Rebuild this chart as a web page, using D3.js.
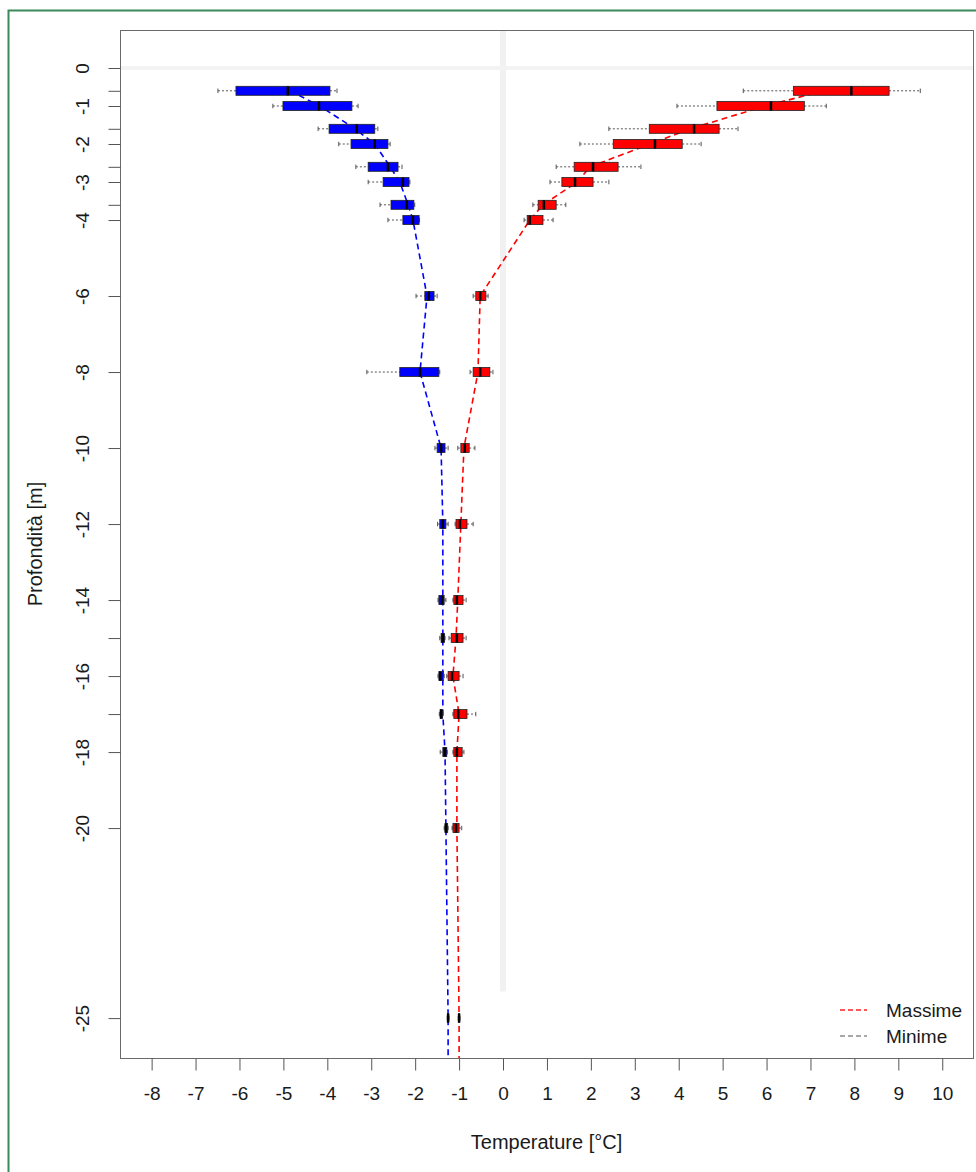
<!DOCTYPE html>
<html>
<head>
<meta charset="utf-8">
<script src="https://cdn.jsdelivr.net/npm/d3@7"></script>
<style>
  body { margin: 0; background: #fff; }
  text { font-family: "Liberation Sans", Arial, sans-serif; fill: #1a1a1a; }
</style>
</head>
<body>
<svg id="chart"></svg>
<script>
// depths of the sensors [m]
var depths = [-0.6, -1, -1.6, -2, -2.6, -3, -3.6, -4, -6, -8, -10, -12, -14, -15, -16, -17, -18, -20, -25]
var depthLabels = [0, -1, -2, -3, -4, -6, -8, -10, -12, -14, -16, -18, -20, -25]
var tempTicks = [-8, -7, -6, -5, -4, -3, -2, -1, 0, 1, 2, 3, 4, 5, 6, 7, 8, 9, 10]

// minima: [whisker low, q1, median, q3, whisker high]
var minBox = [
  [-6.49, -6.08, -4.90, -3.94, -3.78],
  [-5.24, -5.01, -4.19, -3.44, -3.30],
  [-4.21, -3.96, -3.33, -2.92, -2.85],
  [-3.74, -3.46, -2.92, -2.62, -2.57],
  [-3.35, -3.07, -2.62, -2.39, -2.30],
  [-3.07, -2.73, -2.28, -2.14, -2.12],
  [-2.80, -2.55, -2.19, -2.03, -2.01],
  [-2.62, -2.28, -2.05, -1.91, -1.90],
  [-1.98, -1.78, -1.69, -1.57, -1.50],
  [-3.10, -2.35, -1.89, -1.46, -1.44],
  [-1.55, -1.50, -1.41, -1.32, -1.25],
  [-1.49, -1.44, -1.37, -1.30, -1.25],
  [-1.48, -1.46, -1.39, -1.34, -1.30],
  [-1.44, -1.41, -1.37, -1.33, -1.32],
  [-1.48, -1.46, -1.43, -1.36, -1.34],
  [-1.45, -1.43, -1.41, -1.38, -1.37],
  [-1.43, -1.37, -1.32, -1.28, -1.27],
  [-1.34, -1.32, -1.30, -1.26, -1.25],
  [-1.27, -1.26, -1.25, -1.24, -1.23]
]

// maxima: [whisker low, q1, median, q3, whisker high]
var maxBox = [
  [5.47, 6.61, 7.93, 8.79, 9.50],
  [3.96, 4.87, 6.10, 6.86, 7.36],
  [2.41, 3.33, 4.35, 4.92, 5.35],
  [1.75, 2.51, 3.46, 4.08, 4.51],
  [1.21, 1.62, 2.05, 2.62, 3.14],
  [1.07, 1.34, 1.64, 2.05, 2.41],
  [0.68, 0.80, 0.93, 1.21, 1.43],
  [0.48, 0.55, 0.61, 0.91, 1.14],
  [-0.68, -0.62, -0.52, -0.39, -0.34],
  [-0.75, -0.68, -0.52, -0.30, -0.23],
  [-1.03, -0.96, -0.87, -0.77, -0.64],
  [-1.09, -1.07, -0.98, -0.82, -0.68],
  [-1.14, -1.12, -1.05, -0.91, -0.84],
  [-1.23, -1.18, -1.05, -0.91, -0.84],
  [-1.28, -1.25, -1.16, -1.00, -0.91],
  [-1.14, -1.12, -1.02, -0.82, -0.62],
  [-1.14, -1.12, -1.05, -0.93, -0.89],
  [-1.16, -1.14, -1.07, -1.00, -0.94],
  [-1.02, -1.01, -1.00, -0.99, -0.98]
]

// mean profiles (dashed lines)
var minMean = [-4.85, -4.17, -3.37, -2.92, -2.57, -2.35, -2.16, -2.05, -1.73, -1.89, -1.41, -1.37, -1.37, -1.37, -1.37, -1.37, -1.32, -1.30, -1.25]
var maxMean = [7.30, 5.97, 4.26, 3.35, 1.98, 1.69, 0.91, 0.61, -0.52, -0.57, -0.89, -0.96, -1.03, -1.07, -1.14, -1.00, -1.05, -1.05, -1.00]

var legendNames = ["Massime", "Minime"]
var legendColors = ["#ff2020", "#8c8c8c"]

var W = 976, H = 1172
var plot = {left: 120, right: 973, top: 30, bottom: 1058}
var boxH = 9

var svg = d3.select("#chart")
  .attr("width", W)
  .attr("height", H)

// outer green frame
svg.append("rect")
  .attr("x", 8.5)
  .attr("y", 10.5)
  .attr("width", 990)
  .attr("height", 1200)
  .attr("fill", "none")
  .attr("stroke", "#3a8a5c")
  .attr("stroke-width", 2)

var x = d3.scaleLinear().domain([-8.72, 10.7]).range([plot.left, plot.right])
var y = d3.scaleLinear().domain([1, -26.05]).range([plot.top, plot.bottom])

var g = svg.append("g")
var clip = svg.append("clipPath").attr("id", "clip")
clip.append("rect")
  .attr("x", plot.left).attr("y", plot.top)
  .attr("width", plot.right - plot.left).attr("height", plot.bottom - plot.top)

// faint reference lines at 0
g.append("line")
  .attr("x1", x(0)).attr("x2", x(0))
  .attr("y1", plot.top).attr("y2", y(-24.3))
  .attr("stroke", "#f1f1f1")
  .attr("stroke-width", 6)
g.append("line")
  .attr("x1", plot.left).attr("x2", plot.right)
  .attr("y1", y(0)).attr("y2", y(0))
  .attr("stroke", "#f3f3f3")
  .attr("stroke-width", 4)

// mean lines
function drawMean(values, color) {
  var pts = depths.map(function(d, i) { return [values[i], d] })
  pts.push([values[values.length - 1], y.domain()[1]])
  g.append("path")
    .datum(pts)
    .attr("clip-path", "url(#clip)")
    .attr("fill", "none")
    .attr("stroke", color)
    .attr("stroke-width", 1.6)
    .attr("stroke-dasharray", "6,4")
    .attr("d", d3.line().x(function(p) { return x(p[0]) }).y(function(p) { return y(p[1]) }))
}
drawMean(maxMean, "#ff0000")
drawMean(minMean, "#0000ff")

// boxplots
function drawBoxes(stats, color) {
  var grp = g.append("g")
  var items = grp.selectAll("g.box")
    .data(stats.map(function(s, i) { return {s: s, d: depths[i]} }))
    .enter().append("g")
    .attr("class", "box")

  // whiskers
  items.append("line")
    .attr("x1", function(b) { return x(b.s[0]) })
    .attr("x2", function(b) { return x(b.s[1]) })
    .attr("y1", function(b) { return y(b.d) })
    .attr("y2", function(b) { return y(b.d) })
    .attr("stroke", "#555").attr("stroke-width", 1).attr("stroke-dasharray", "2,2")
  items.append("line")
    .attr("x1", function(b) { return x(b.s[3]) })
    .attr("x2", function(b) { return x(b.s[4]) })
    .attr("y1", function(b) { return y(b.d) })
    .attr("y2", function(b) { return y(b.d) })
    .attr("stroke", "#555").attr("stroke-width", 1).attr("stroke-dasharray", "2,2")
  ;[0, 4].forEach(function(k) {
    items.append("line")
      .attr("x1", function(b) { return x(b.s[k]) })
      .attr("x2", function(b) { return x(b.s[k]) })
      .attr("y1", function(b) { return y(b.d) - boxH / 4 })
      .attr("y2", function(b) { return y(b.d) + boxH / 4 })
      .attr("stroke", "#555").attr("stroke-width", 1)
  })

  items.append("rect")
    .attr("x", function(b) { return x(b.s[1]) })
    .attr("y", function(b) { return y(b.d) - boxH / 2 })
    .attr("width", function(b) { return Math.max(1, x(b.s[3]) - x(b.s[1])) })
    .attr("height", boxH)
    .attr("fill", color)
    .attr("stroke", "#222")
    .attr("stroke-width", 0.8)

  items.append("line")
    .attr("x1", function(b) { return x(b.s[2]) })
    .attr("x2", function(b) { return x(b.s[2]) })
    .attr("y1", function(b) { return y(b.d) - boxH / 2 })
    .attr("y2", function(b) { return y(b.d) + boxH / 2 })
    .attr("stroke", "#000")
    .attr("stroke-width", 2.5)
}
drawBoxes(minBox, "#0000ff")
drawBoxes(maxBox, "#ff0000")

// plot frame
svg.append("rect")
  .attr("x", plot.left + 0.5).attr("y", plot.top + 0.5)
  .attr("width", plot.right - plot.left).attr("height", plot.bottom - plot.top)
  .attr("fill", "none")
  .attr("stroke", "#6a6a6a")
  .attr("stroke-width", 1)

// x axis
var xAxis = svg.append("g")
  .attr("transform", "translate(0," + (plot.bottom + 0.5) + ")")
  .call(d3.axisBottom(x).tickValues(tempTicks).tickSize(12).tickPadding(16)
    .tickFormat(function(d) { return String(d) }))
xAxis.select(".domain").remove()
xAxis.selectAll("line").attr("stroke", "#555")
xAxis.selectAll("text").style("font-size", "19px").attr("fill", "#1a1a1a")

// y axis
var yTicks = [0].concat(depths)
var yAxis = svg.append("g")
  .attr("transform", "translate(" + (plot.left + 0.5) + ",0)")
  .call(d3.axisLeft(y).tickValues(yTicks).tickSize(12)
    .tickFormat(function(d) { return depthLabels.indexOf(d) >= 0 ? String(d) : "" }))
yAxis.select(".domain").remove()
yAxis.selectAll("line").attr("stroke", "#555")
yAxis.selectAll("text")
  .style("font-size", "19px")
  .attr("fill", "#1a1a1a")
  .attr("text-anchor", "middle")
  .attr("dy", "0.35em")
  .attr("transform", "translate(" + (82 - plot.left) + ",0) rotate(-90)")
  .attr("x", 0)
  .attr("y", 0)

// axis titles
svg.append("text")
  .attr("x", (plot.left + plot.right) / 2)
  .attr("y", 1149)
  .attr("text-anchor", "middle")
  .style("font-size", "20px")
  .text("Temperature [°C]")
svg.append("text")
  .attr("transform", "translate(42," + (plot.top + plot.bottom) / 2 + ") rotate(-90)")
  .attr("text-anchor", "middle")
  .style("font-size", "20px")
  .text("Profondità [m]")

// legend
var legend = svg.append("g").attr("transform", "translate(840,1010)")
legendNames.forEach(function(name, i) {
  legend.append("line")
    .attr("x1", 0).attr("x2", 27)
    .attr("y1", i * 26).attr("y2", i * 26)
    .attr("stroke", legendColors[i])
    .attr("stroke-width", 1.6)
    .attr("stroke-dasharray", "5,3")
  legend.append("text")
    .attr("x", 46)
    .attr("y", i * 26 + 7)
    .style("font-size", "19px")
    .text(name)
})
</script>
</body>
</html>
